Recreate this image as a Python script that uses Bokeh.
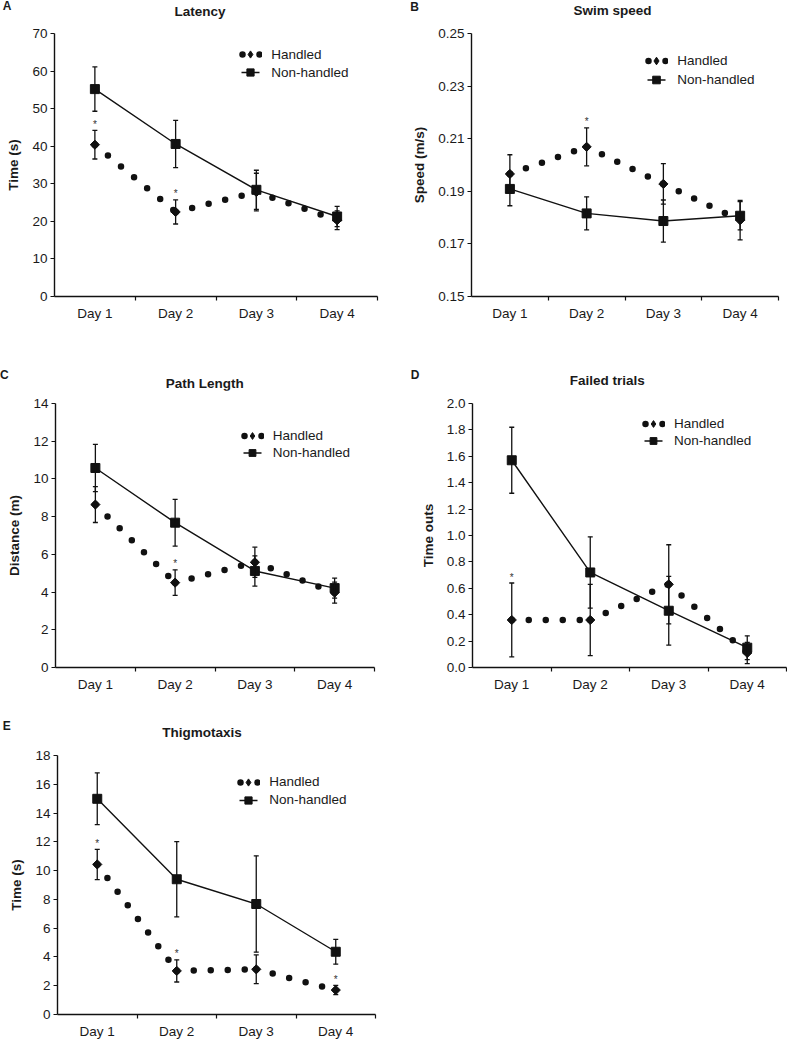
import numpy as np
from bokeh.plotting import figure
from bokeh.models import (Range1d, FixedTicker, ColumnDataSource, Whisker, TeeHead,
                          Legend, LegendItem, NumeralTickFormatter, Div)
from bokeh.layouts import row, column
from bokeh.embed import file_html
from bokeh.resources import INLINE
from bokeh.core.properties import value

# ---------------- data ----------------
days = [1, 2, 3, 4]
day_labels = ["Day 1", "Day 2", "Day 3", "Day 4"]
series_labels = ["Handled", "Non-handled"]

# A Latency (s)
latency_handled = [40.4, 22.5, 27.8, 20.3]
latency_handled_se = [3.8, 3.2, 5.0, 2.5]
latency_nonhandled = [55.2, 40.6, 28.4, 21.3]
latency_nonhandled_se = [5.9, 6.3, 5.2, 2.7]
latency_sig_days = [1, 2]
latency_ticks = [0, 10, 20, 30, 40, 50, 60, 70]

# B Swim speed (m/s)
speed_handled = [0.1966, 0.2069, 0.1928, 0.1790]
speed_handled_se = [0.0073, 0.0072, 0.0077, 0.0075]
speed_nonhandled = [0.1909, 0.1816, 0.1787, 0.1807]
speed_nonhandled_se = [0.0064, 0.0063, 0.0080, 0.0054]
speed_sig_days = [2]
speed_ticks = [0.15, 0.17, 0.19, 0.21, 0.23, 0.25]

# C Path length (m)
path_handled = [8.64, 4.50, 5.58, 3.97]
path_handled_se = [0.95, 0.68, 0.80, 0.56]
path_nonhandled = [10.58, 7.68, 5.12, 4.21]
path_nonhandled_se = [1.25, 1.24, 0.80, 0.53]
path_sig_days = [2]
path_ticks = [0, 2, 4, 6, 8, 10, 12, 14]

# D Failed trials (time outs)
failed_handled = [0.36, 0.36, 0.63, 0.11]
failed_handled_se = [0.28, 0.27, 0.30, 0.08]
failed_nonhandled = [1.57, 0.72, 0.43, 0.15]
failed_nonhandled_se = [0.25, 0.27, 0.26, 0.09]
failed_sig_days = [1]
failed_ticks = [0.0, 0.2, 0.4, 0.6, 0.8, 1.0, 1.2, 1.4, 1.6, 1.8, 2.0]

# E Thigmotaxis (s)
thig_handled = [10.43, 3.03, 3.14, 1.70]
thig_handled_se = [1.05, 0.77, 1.00, 0.32]
thig_nonhandled = [14.99, 9.40, 7.68, 4.36]
thig_nonhandled_se = [1.80, 2.62, 3.35, 0.86]
thig_sig_days = [1, 2, 4]
thig_ticks = [0, 2, 4, 6, 8, 10, 12, 14, 16, 18]

# ---------------- style ----------------
FONT = "Liberation Sans"
INK = "#111111"
TXT = "#1a1a1a"


def header(letter, title, width, height, letter_pos, title_pos):
    lx, ly, lal = letter_pos
    tx, ty = title_pos
    ls, ts = 12, 13.5
    if lal == "left":
        lstyle = f"left:{lx}px;"
    else:
        lstyle = f"left:{lx - 20}px;width:40px;text-align:center;"
    html = (
        f'<div style="position:relative;width:{width}px;height:{height}px;'
        f"font-family:'{FONT}';font-weight:bold;color:{TXT};white-space:nowrap;\">"
        f'<span style="position:absolute;{lstyle}top:{ly - 0.49 * ls:.1f}px;'
        f'font-size:{ls}px;line-height:1;">{letter}</span>'
        f'<span style="position:absolute;left:{tx - 150}px;width:300px;text-align:center;'
        f'top:{ty - 0.49 * ts:.1f}px;font-size:{ts}px;line-height:1;">{title}</span></div>'
    )
    return Div(text=html, width=width, height=height, margin=0)


def panel(ylabel, yticks, yfmt, h, h_se, n, n_se, sig_days, lay):
    W, H = lay["size"]
    L, R, T, B = lay["borders"]
    p = figure(width=W, height=H, x_range=Range1d(0.5, 4.5),
               y_range=Range1d(yticks[0], yticks[-1]),
               output_backend="svg", toolbar_location=None,
               min_border_left=L, min_border_right=R, min_border_top=T, min_border_bottom=B)
    p.outline_line_color = None
    p.xgrid.visible = False
    p.ygrid.visible = False
    p.background_fill_color = "white"
    p.border_fill_color = "white"

    # handled: round-dot connector, restarting each segment
    p.segment(x0=days[:-1], y0=h[:-1], x1=days[1:], y1=h[1:],
              line_color=INK, line_width=6.5, line_dash="0 17", line_cap="round")
    # non-handled: solid line
    p.line(days, n, line_color=INK, line_width=1.4)

    # error bars
    for vals, se in ((n, n_se), (h, h_se)):
        src = ColumnDataSource(dict(x=days,
                                    lo=[v - e for v, e in zip(vals, se)],
                                    hi=[v + e for v, e in zip(vals, se)]))
        w = Whisker(source=src, base="x", lower="lo", upper="hi", dimension="height",
                    line_color=INK, line_width=1.3, level="glyph",
                    lower_head=TeeHead(size=5, line_color=INK, line_width=1.3),
                    upper_head=TeeHead(size=5, line_color=INK, line_width=1.3))
        p.add_layout(w)

    r_sq = p.scatter(days, n, marker="square", size=9, fill_color=INK, line_color=INK)
    p.scatter(days, h, marker="square", angle=np.pi / 4, size=6.5,
              fill_color=INK, line_color=INK)

    # significance asterisks
    sx = list(sig_days)
    sy = [h[d - 1] + h_se[d - 1] for d in sig_days]
    p.text(x=sx, y=sy, text=["*"] * len(sx), text_font=value(FONT), text_font_size="10px",
           text_color="#333333", text_align="center", text_baseline="middle", y_offset=-6)

    # legend-only (hidden) styles, so the legend swatches look like "● ◆ ●" and "-■-"
    g_dots = p.segment(x0=days[:-1], y0=h[:-1], x1=days[1:], y1=h[1:], visible=False,
                       line_color=INK, line_width=6.5, line_dash="0 17", line_dash_offset=13,
                       line_cap="round")
    g_diam = p.scatter(days, h, visible=False, marker="diamond", size=10.5,
                       fill_color=INK, line_color=INK)
    g_line = p.line(days, n, visible=False, line_color=INK, line_width=1.4,
                    line_dash="0 3 18 100")

    # axes
    xa = p.xaxis[0]
    xa.ticker = FixedTicker(ticks=days, minor_ticks=[1.5, 2.5, 3.5, 4.5])
    xa.major_label_overrides = {d: lab for d, lab in zip(days, day_labels)}
    xa.major_tick_out = 0
    xa.major_tick_in = 0
    xa.minor_tick_out = 4
    xa.minor_tick_in = 0
    xa.axis_line_width = 1.4
    xa.axis_line_color = INK
    xa.minor_tick_line_color = INK
    xa.minor_tick_line_width = 1.2
    xa.major_label_standoff = 5
    xa.major_label_text_font = FONT
    xa.major_label_text_font_size = "13.5px"
    xa.major_label_text_color = TXT

    ya = p.yaxis[0]
    ya.ticker = FixedTicker(ticks=yticks, minor_ticks=[])
    ya.formatter = NumeralTickFormatter(format=yfmt)
    ya.major_tick_out = 4
    ya.major_tick_in = 0
    ya.minor_tick_out = 0
    ya.minor_tick_in = 0
    ya.axis_line_width = 1.4
    ya.axis_line_color = INK
    ya.major_tick_line_color = INK
    ya.major_tick_line_width = 1.2
    ya.major_label_standoff = 3
    ya.major_label_text_font = FONT
    ya.major_label_text_font_size = "13.5px"
    ya.major_label_text_color = TXT
    ya.axis_label = ylabel
    ya.axis_label_text_font = FONT
    ya.axis_label_text_font_size = "13.5px"
    ya.axis_label_text_font_style = "bold"
    ya.axis_label_text_color = TXT
    ya.axis_label_standoff = 8

    rh = int(round(lay["leg_row"]))
    leg = Legend(items=[LegendItem(label=series_labels[0], renderers=[g_dots, g_diam]),
                        LegendItem(label=series_labels[1], renderers=[g_line, r_sq])],
                 location=lay["leg_loc"], orientation="vertical", click_policy="none",
                 glyph_width=24, glyph_height=rh, label_height=rh,
                 label_standoff=9, spacing=0, padding=0, margin=0,
                 border_line_alpha=0, background_fill_alpha=0, inactive_fill_alpha=0,
                 label_text_font=FONT, label_text_font_size="13.5px", label_text_color=TXT)
    p.add_layout(leg)
    return p


# layout (pixels): headers hold panel letters and titles
hA = header("A", "Latency", 393, 20, (2.7, 6.0, "left"), (200, 11.7))
hB = header("B", "Swim speed", 394, 20, (21.5, 7.0, "center"), (219.5, 11))
hC = header("C", "Path Length", 393, 55, (0, 40, "left"), (204.7, 48.3))
hD = header("D", "Failed trials", 394, 55, (22, 40, "center"), (214.3, 46))
hE = header("E", "Thigmotaxis", 393, 38, (2.7, 21, "left"), (202, 27.5))

layA = dict(size=(393, 315), borders=(54, 16, 13, 39), leg_loc=(184.3, 215), leg_row=18.4)
layB = dict(size=(394, 315), borders=(78, 9, 12, 37), leg_loc=(173.3, 207), leg_row=19)
layC = dict(size=(393, 315), borders=(55, 19, 13, 38), leg_loc=(184.7, 206), leg_row=17.4)
layD = dict(size=(394, 315), borders=(79, 1, 12, 38), leg_loc=(169, 218), leg_row=16.7)
layE = dict(size=(393, 298), borders=(57, 18, 12, 25), leg_loc=(179.3, 205.5), leg_row=18.3)

pA = panel("Time (s)", latency_ticks, "0",
           latency_handled, latency_handled_se, latency_nonhandled, latency_nonhandled_se,
           latency_sig_days, layA)
pB = panel("Speed (m/s)", speed_ticks, "0.00",
           speed_handled, speed_handled_se, speed_nonhandled, speed_nonhandled_se,
           speed_sig_days, layB)
pC = panel("Distance (m)", path_ticks, "0",
           path_handled, path_handled_se, path_nonhandled, path_nonhandled_se,
           path_sig_days, layC)
pD = panel("Time outs", failed_ticks, "0.0",
           failed_handled, failed_handled_se, failed_nonhandled, failed_nonhandled_se,
           failed_sig_days, layD)
pE = panel("Time (s)", thig_ticks, "0",
           thig_handled, thig_handled_se, thig_nonhandled, thig_nonhandled_se,
           thig_sig_days, layE)

layout = column(row(hA, hB, spacing=0), row(pA, pB, spacing=0),
                row(hC, hD, spacing=0), row(pC, pD, spacing=0),
                hE, pE, spacing=0)

with open("out.html", "w") as f:
    f.write(file_html(layout, INLINE))
